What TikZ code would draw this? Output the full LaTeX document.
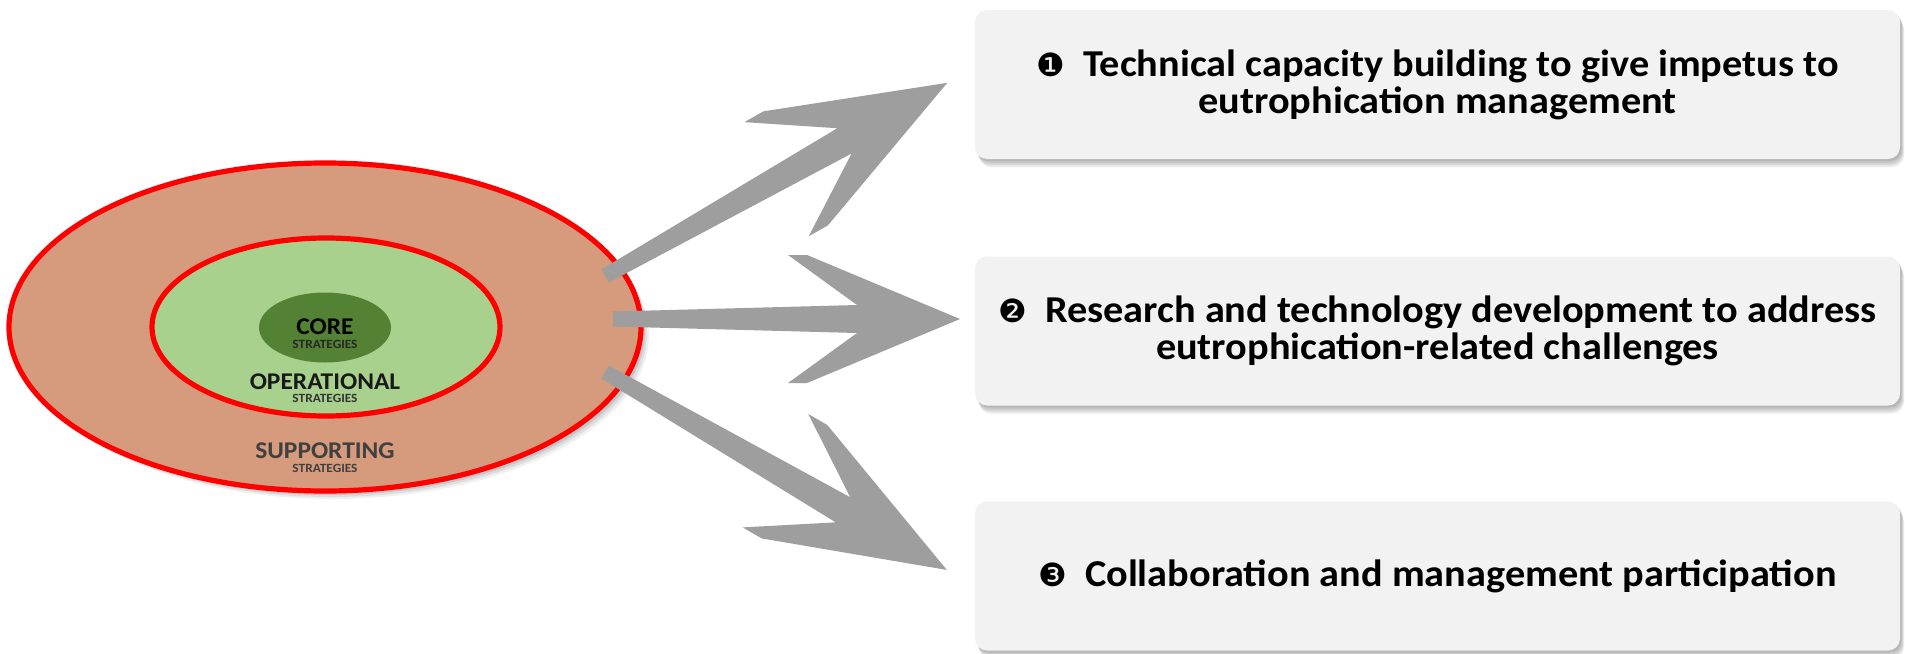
\documentclass[tikz,border=0pt]{standalone}
\usepackage{fontspec}
\setmainfont{Carlito}[FakeStretch=1.06]
\newfontfamily\dejavu{DejaVu Sans}
\usetikzlibrary{shapes.geometric,shadows}
\definecolor{supfill}{RGB}{214,154,124}
\definecolor{opfill}{RGB}{169,209,142}
\definecolor{corefill}{RGB}{84,130,53}
\definecolor{arrowgray}{RGB}{158,158,158}
\definecolor{boxfill}{RGB}{242,242,242}
\definecolor{ringred}{RGB}{255,0,0}
\definecolor{suptext}{RGB}{64,64,64}
\tikzset{
  softshadow/.style={
    general shadow={draw=none, fill=black, opacity=0.08, shadow xshift=0.8pt, shadow yshift=-1pt},
    general shadow={draw=none, fill=black, opacity=0.08, shadow xshift=1.2pt, shadow yshift=-2pt},
    general shadow={draw=none, fill=black, opacity=0.08, shadow xshift=1.6pt, shadow yshift=-3pt},
    general shadow={draw=none, fill=black, opacity=0.08, shadow xshift=2pt, shadow yshift=-4pt}},
  ringshadow/.style={
    general shadow={draw=none, fill=black, opacity=0.10, shadow xshift=1pt, shadow yshift=-1pt},
    general shadow={draw=none, fill=black, opacity=0.10, shadow xshift=2pt, shadow yshift=-2pt},
    general shadow={draw=none, fill=black, opacity=0.08, shadow xshift=3pt, shadow yshift=-3pt},
    general shadow={draw=none, fill=black, opacity=0.06, shadow xshift=4pt, shadow yshift=-4pt}},
  ring/.style={ellipse, draw=ringred, line width=2.6pt, inner sep=0pt},
  infobox/.style={rectangle, rounded corners=6pt, fill=boxfill, minimum width=462.5pt,
    minimum height=74.5pt, inner sep=0pt, align=center, text=black,
    font=\bfseries\fontsize{19}{18.5}\selectfont, softshadow},
  biglabel/.style={inner sep=0pt, font=\bfseries\fontsize{12}{12}\selectfont},
  smalllabel/.style={inner sep=0pt, font=\bfseries\fontsize{6.3}{6.3}\selectfont},
  pics/fatarrow/.style n args={6}{code={
    \fill[arrowgray] (0,-7.5) -- (#2,-#3) -- (#4,-#6) -- (#5,-#6) -- (#1,0)
      -- (#5,#6) -- (#4,#6) -- (#2,#3) -- (0,7.5) -- cycle;}}
}
\newcommand{\bul}[1]{{\dejavu\mdseries\fontsize{16}{16}\selectfont #1}\hspace{9pt}}
\begin{document}
\begin{tikzpicture}[x=0.5pt, y=-0.5pt]
\useasboundingbox (0,0) rectangle (1905,653);
\fill[white] (0,0) rectangle (1905,653);

% concentric strategy ellipses
\node[ring, fill=supfill, minimum width=316pt, minimum height=164pt, ringshadow] (sup) at (325,327) {};
\node[ring, fill=opfill, minimum width=174pt, minimum height=89pt] (op) at (326,327) {};
\node[ellipse, fill=corefill, minimum width=66pt, minimum height=35pt, inner sep=0pt] (core) at (325,327.5) {};

\node[biglabel, text=black] (corelbl) at (325,326.7) {CORE};
\node[smalllabel, text=black!85] (coresub) at (325,344.5) {STRATEGIES};
\node[biglabel, text=black!90] (oplbl) at (325,381.7) {OPERATIONAL};
\node[smalllabel, text=black!80] (opsub) at (325,398.7) {STRATEGIES};
\node[biglabel, text=suptext] (suplbl) at (325,451.2) {SUPPORTING};
\node[smalllabel, text=suptext] (supsub) at (325,468.3) {STRATEGIES};

% boxes
\node[infobox] (b1) at (1437.5,84.5) {\bul{❶}Technical capacity building to give impetus to\\eutrophication management};
\node[infobox] (b2) at (1437.5,331) {\bul{❷}Research and technology development to address\\eutrophication-related challenges};
\node[infobox] (b3) at (1437.5,576) {\bul{❸}Collaboration and management participation};

% arrows
\coordinate (t1) at (605,276);
\coordinate (t2) at (613,319);
\coordinate (t3) at (605,372);
\pic[rotate=29.44] at (t1) {fatarrow={393}{275}{14.5}{197}{219}{65.5}};
\pic at (t2) {fatarrow={347}{244}{14}{175}{194}{64}};
\pic[rotate=-30.07] at (t3) {fatarrow={395}{275}{14.5}{197}{219}{65.5}};
\end{tikzpicture}
\end{document}
